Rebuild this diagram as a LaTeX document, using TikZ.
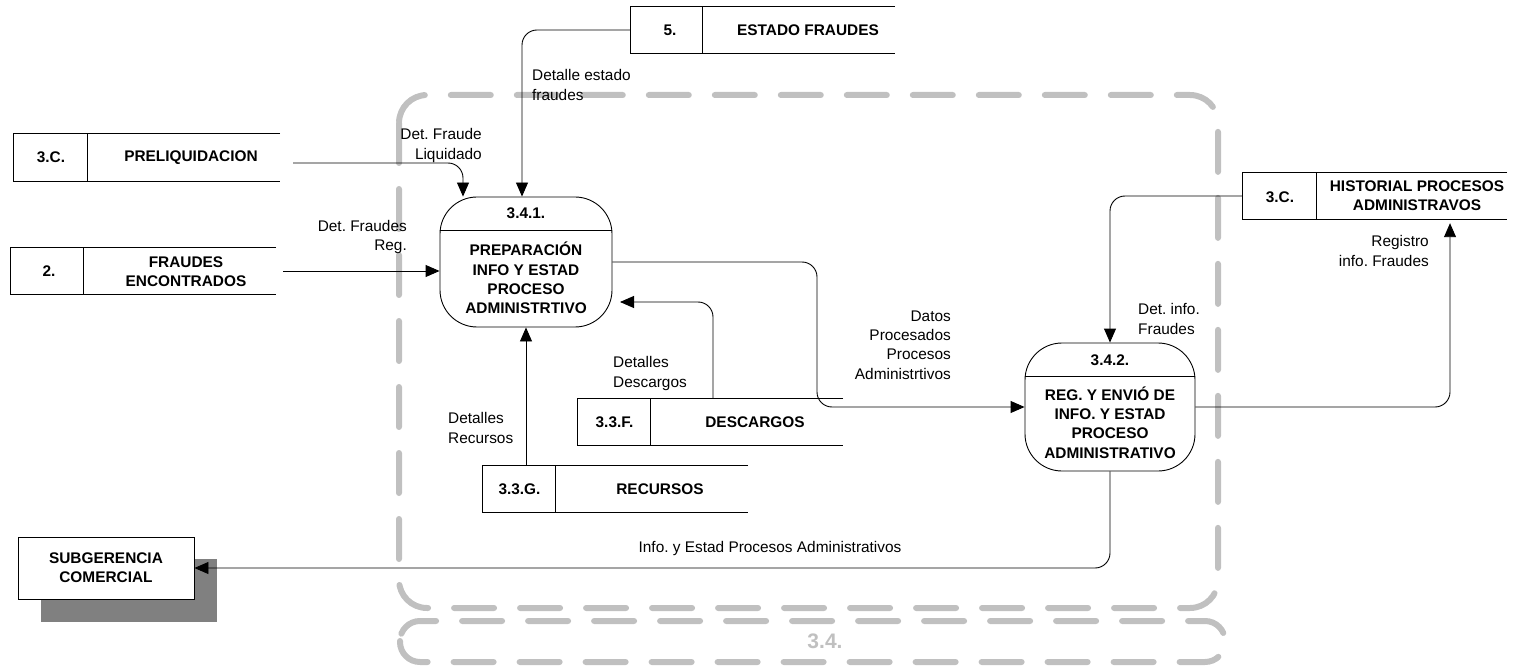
\documentclass[tikz,border=0pt]{standalone}
\usepackage{fontspec}
\setmainfont{Liberation Sans}
\usetikzlibrary{arrows.meta}
\definecolor{bgray}{HTML}{C0C0C0}
\definecolor{sgray}{HTML}{808080}
\frenchspacing
\begin{document}
\begin{tikzpicture}[x=1pt,y=-1pt,
  every node/.style={font=\fontsize{15.4}{19.3}\selectfont, inner sep=0pt},
  btxt/.style={font=\fontsize{15.4}{19.3}\selectfont\bfseries},
  store/.style={rectangle, minimum height=46pt},
  sline/.style={draw, line width=0.8pt},
  proc/.style={draw, line width=0.9pt, rounded corners=37pt, fill=white},
  flow/.style={draw, line width=0.9pt, rounded corners=15pt, -{Triangle[length=14pt,width=12pt]}},
  boundary/.style={draw=bgray, line width=6pt, line cap=round, dash pattern=on 40pt off 26pt, rounded corners=28pt},
]
\useasboundingbox (0,0) rectangle (1531,668);

% boundaries
\draw[boundary] (399,95) rectangle (1218,608);
\draw[boundary, rounded corners=20pt] (400,621) rectangle (1225,662);
\node[font=\fontsize{21}{24}\selectfont\bfseries, text=bgray] (lbl34) at (825,641) {3.4.};

% stores
\node[store, minimum width=266pt, minimum height=47pt] (s1) at (147,157.5) {};
\draw[sline] (s1.north east) -- (s1.north west) -- (s1.south west) -- (s1.south east);
\draw[sline] ([xshift=74pt]s1.north west) -- ([xshift=74pt]s1.south west);
\node[btxt] (s1id) at (51,157.5) {3.C.};
\node[btxt] (s1nm) at (191,157.5) {PRELIQUIDACION};

\node[store, minimum width=265pt] (s2) at (143.5,271) {};
\draw[sline] (s2.north east) -- (s2.north west) -- (s2.south west) -- (s2.south east);
\draw[sline] ([xshift=73pt]s2.north west) -- ([xshift=73pt]s2.south west);
\node[btxt] (s2id) at (49,271) {2.};
\node[btxt, align=center] (s2nm) at (186,272) {FRAUDES\\ENCONTRADOS};

\node[store, minimum width=264pt] (s3) at (763,30) {};
\draw[sline] (s3.north east) -- (s3.north west) -- (s3.south west) -- (s3.south east);
\draw[sline] ([xshift=72pt]s3.north west) -- ([xshift=72pt]s3.south west);
\node[btxt] (s3id) at (670,30) {5.};
\node[btxt] (s3nm) at (808,30) {ESTADO FRAUDES};

\node[store, minimum width=264pt] (s4) at (1375,196) {};
\draw[sline] (s4.north east) -- (s4.north west) -- (s4.south west) -- (s4.south east);
\draw[sline] ([xshift=74pt]s4.north west) -- ([xshift=74pt]s4.south west);
\node[btxt] (s4id) at (1280,197) {3.C.};
\node[btxt, align=center] (s4nm) at (1417,196) {HISTORIAL PROCESOS\\ADMINISTRAVOS};

\node[store, minimum width=265pt] (s5) at (710.5,422) {};
\draw[sline] (s5.north east) -- (s5.north west) -- (s5.south west) -- (s5.south east);
\draw[sline] ([xshift=73pt]s5.north west) -- ([xshift=73pt]s5.south west);
\node[btxt] (s5id) at (614.5,422) {3.3.F.};
\node[btxt] (s5nm) at (755,422) {DESCARGOS};

\node[store, minimum width=265pt] (s6) at (615.5,489) {};
\draw[sline] (s6.north east) -- (s6.north west) -- (s6.south west) -- (s6.south east);
\draw[sline] ([xshift=73pt]s6.north west) -- ([xshift=73pt]s6.south west);
\node[btxt] (s6id) at (519.5,489) {3.3.G.};
\node[btxt] (s6nm) at (660,489) {RECURSOS};

% processes
\node[proc, minimum width=172pt, minimum height=130pt] (p1) at (526,262) {};
\draw[line width=0.9pt] ([yshift=-34pt]p1.north west) -- ([yshift=-34pt]p1.north east);
\node[btxt] (p1id) at (526,213) {3.4.1.};
\node[btxt, align=center] (p1nm) at (526,278) {PREPARACIÓN\\INFO Y ESTAD\\PROCESO\\ADMINISTRTIVO};

\node[proc, minimum width=170pt, minimum height=128pt] (p2) at (1110,407) {};
\draw[line width=0.9pt] ([yshift=-34pt]p2.north west) -- ([yshift=-34pt]p2.north east);
\node[btxt] (p2id) at (1110,360) {3.4.2.};
\node[btxt, align=center] (p2nm) at (1110,422.5) {REG. Y ENVIÓ DE\\INFO. Y ESTAD\\PROCESO\\ADMINISTRATIVO};

% external entity
\node[fill=sgray, minimum width=176pt, minimum height=63pt] (entsh) at (129,590.5) {};
\node[draw, line width=0.9pt, fill=white, minimum width=176pt, minimum height=62pt, btxt, align=center] (ent) at (106,568) {SUBGERENCIA\\COMERCIAL};

% flows
\coordinate (d5) at (620,302);
\coordinate (c6) at (817,335);
\draw[flow] ([xshift=13pt,yshift=-5.5pt]s1.east) -| ([xshift=-63pt]p1.north);
\draw[flow] ([xshift=7pt]s2.east) -- (p1.west |- s2.east);
\draw[flow] (s3.west) -| ([xshift=-4pt]p1.north);
\draw[flow] (p1.south |- s6.north) -- (p1.south);
\draw[flow] ([xshift=2.5pt]s5.north) |- (d5);
\draw[flow] (p1.east) -| (c6) |- (p2.west);
\draw[flow] (p2.east) -| ([xshift=75pt,yshift=-4pt]s4.south);
\draw[flow] (s4.west) -| (p2.north);
\draw[flow] (p2.south) |- (ent.east);

% flow labels
\node[align=right, anchor=east] (l1) at (482,145.5) {Det. Fraude\\Liquidado};
\node[align=right, anchor=east] (l2) at (407,237) {Det. Fraudes\\Reg.};
\node[align=left, anchor=west] (l3) at (532,85) {Detalle estado\\fraudes};
\node[align=left, anchor=west] (l4) at (613,373.5) {Detalles\\Descargos};
\node[align=left, anchor=west] (l5) at (448,428) {Detalles\\Recursos};
\node[align=right, anchor=east] (l6) at (951,345) {Datos\\Procesados\\Procesos\\Administrtivos};
\node[align=left, anchor=west] (l7) at (1138,319) {Det. info.\\Fraudes};
\node[align=right, anchor=east] (l8) at (1429,251) {Registro\\info. Fraudes};
\node (l9) at (770,549) {Info. y Estad Procesos Administrativos};
\end{tikzpicture}
\end{document}
